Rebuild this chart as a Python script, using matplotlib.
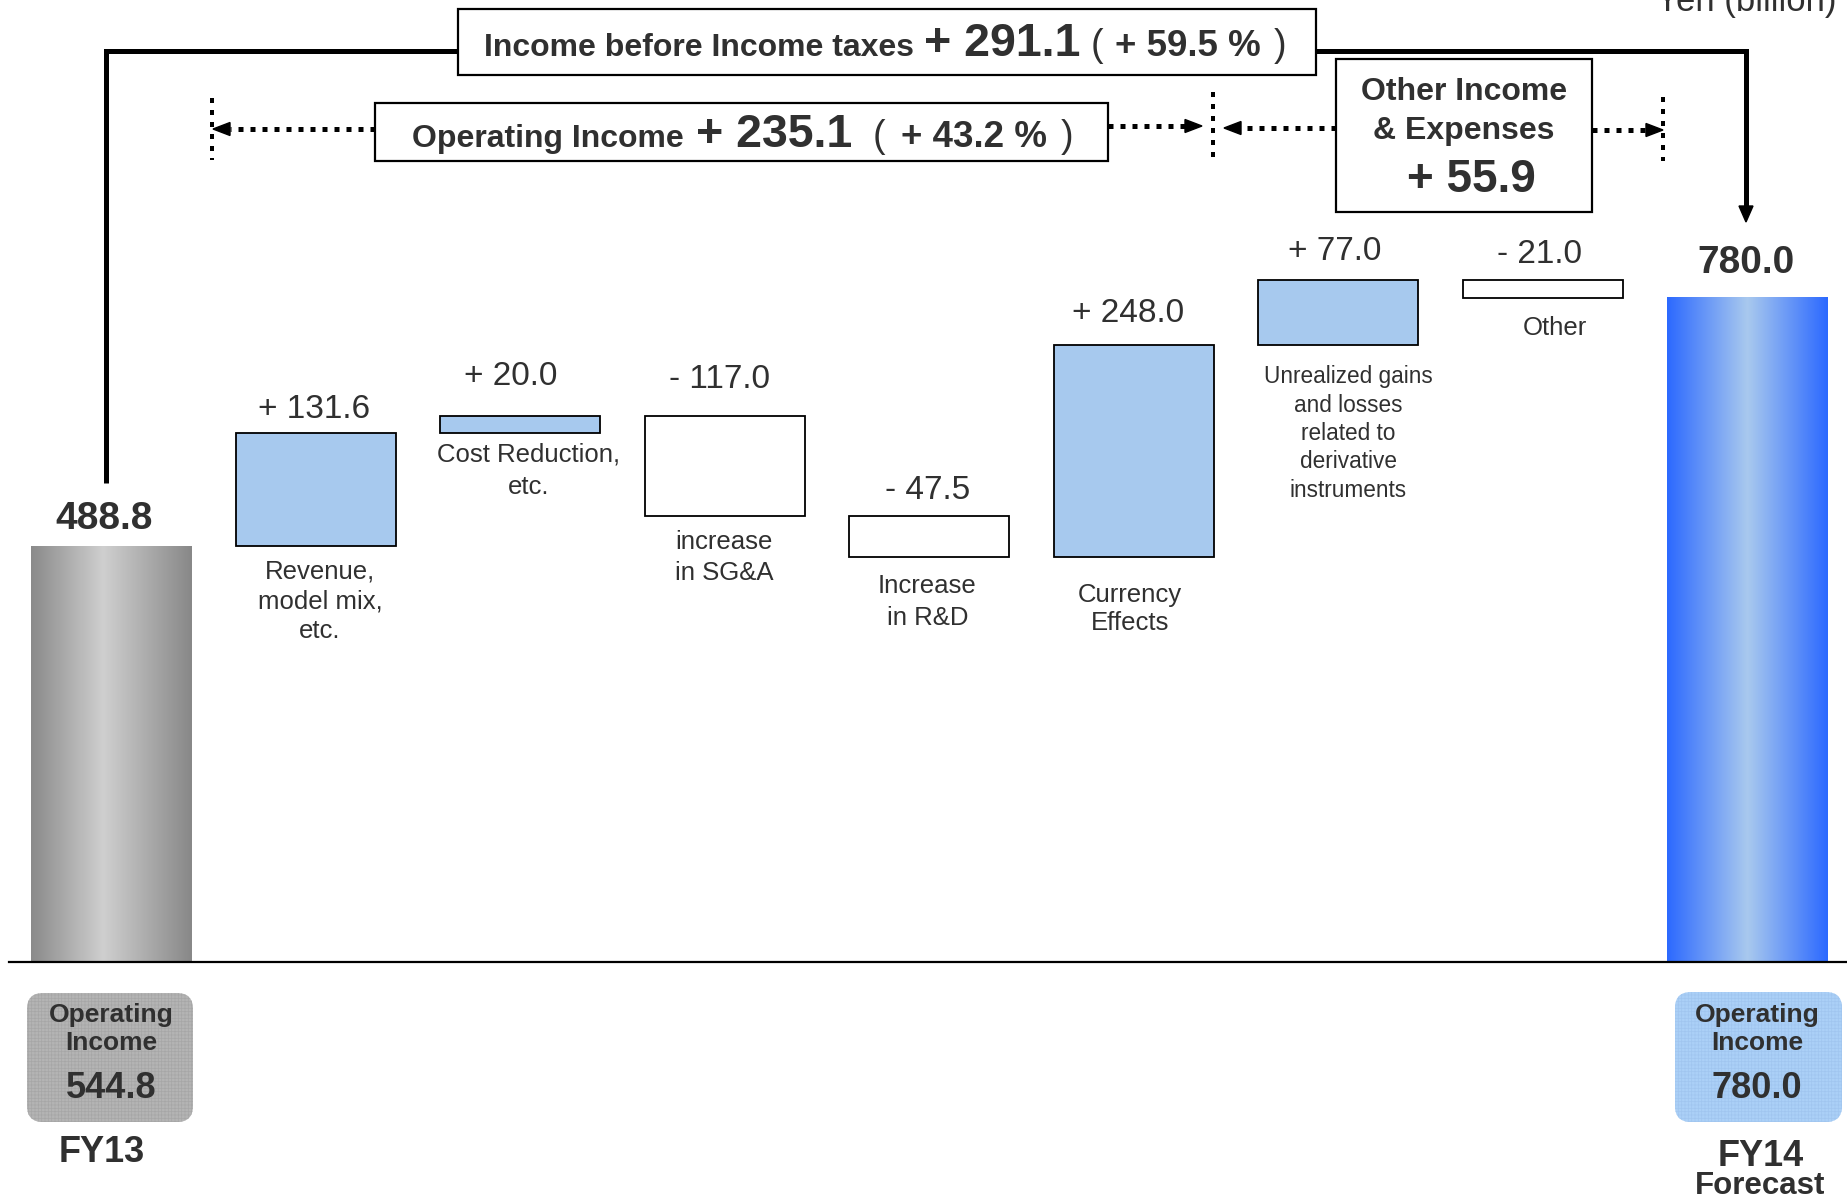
import numpy as np
import matplotlib
matplotlib.use("Agg")
import matplotlib.pyplot as plt
from matplotlib.patches import Rectangle, FancyBboxPatch, Polygon
from matplotlib.lines import Line2D
from matplotlib.transforms import Affine2D
from matplotlib.colors import LinearSegmentedColormap

# ---------------- data ----------------
start_label = ["FY13"]
end_label = ["FY14", "Forecast"]
start_value = 488.8
end_value = 780.0
step_labels = ["Revenue,\nmodel mix,\netc.",
               "Cost Reduction,\netc.",
               "increase\nin SG&A",
               "Increase\nin R&D",
               "Currency\nEffects",
               "Unrealized gains\nand losses\nrelated to\nderivative\ninstruments",
               "Other"]
step_values = [131.6, 20.0, -117.0, -47.5, 248.0, 77.0, -21.0]
op_income_fy13 = 544.8
op_income_fy14 = 780.0
ibt_change = 291.1
ibt_change_pct = 59.5
op_change = 235.1
op_change_pct = 43.2
other_change = 55.9
unit_label = "Yen (billion)"

# ---------------- style ----------------
plt.rcParams['font.family'] = ['Liberation Sans', 'DejaVu Sans']
DARK = '#303030'
POS_COLOR = '#A7C9EE'
NEG_COLOR = 'white'
value_gap_px = [24, 40, 37, 26, 32, 28, 25]
value_dx_px = [-2, -10, -5, -2, -6, -3, -3]
label_gap_px = [25, 20, 25, 28, 37, 31, 29]
label_dx_px = [4, 8, -1, -2, -4, 10, 12]
label_sizes = [18.5, 18.5, 18.5, 18.5, 18.5, 16.3, 18.5]
label_spacing = [1.30, 1.46, 1.35, 1.46, 1.25, 1.30, 1.2]

W, H = 1847, 1200
fig = plt.figure(figsize=(W / 100, H / 100), dpi=100)
ax = fig.add_axes([0, 0, 1, 1])
ax.axis('off')

PX_PER_X = 204.44
X0_PX = 111.5
BASE_PX = 962.0
PX_PER_Y = 0.852
XLIM = (-X0_PX / PX_PER_X, (W - X0_PX) / PX_PER_X)
YLIM = (-(H - BASE_PX) / PX_PER_Y, BASE_PX / PX_PER_Y)

def xd(p):
    return (p - X0_PX) / PX_PER_X

def yd(p):
    return (BASE_PX - p) / PX_PER_Y

# pixel transform (y down)
px = Affine2D().scale(1 / W, -1 / H).translate(0, 1) + fig.transFigure

# ---------------- bars ----------------
n = len(step_values)
xs = np.arange(n + 2)
cum = start_value + np.concatenate([[0.0], np.cumsum(step_values)])
bottoms = cum[:-1]
colors = [POS_COLOR if v > 0 else NEG_COLOR for v in step_values]
BW = 0.783
ax.bar(xs[1:-1], step_values, bottom=bottoms, width=BW, color=colors,
       edgecolor='black', linewidth=1.3, zorder=3)

end_bars = ax.bar([xs[0], xs[-1]], [start_value, end_value], width=0.787,
                  color='none', linewidth=0, zorder=2)

def grad_fill(bar, stops):
    cmap = LinearSegmentedColormap.from_list('g', stops)
    x0 = bar.get_x(); w = bar.get_width(); h = bar.get_height()
    im = ax.imshow(np.linspace(0, 1, 256)[None, :], cmap=cmap,
                   extent=(x0, x0 + w, 0, h), aspect='auto',
                   interpolation='bilinear', zorder=2)
    im.set_clip_path(bar)

grad_fill(end_bars[0], [(0, '#8A8A8A'), (0.45, '#CFCFCF'), (1, '#888888')])
grad_fill(end_bars[1], [(0, '#2C69FF'), (0.5, '#A9C9EE'), (1, '#2C69FF')])

# baseline
ax.plot([xd(9), XLIM[1]], [0, 0], color='black', lw=1.6, zorder=4)

# step value labels and category labels
for i, v in enumerate(step_values):
    x = xs[i + 1]
    top = max(bottoms[i], bottoms[i] + v)
    bot = min(bottoms[i], bottoms[i] + v)
    sign = '+' if v > 0 else '-'
    ax.text(x + value_dx_px[i] / PX_PER_X, top + value_gap_px[i] / PX_PER_Y,
            f"{sign} {abs(v):.1f}", ha='center', va='center', fontsize=24,
            color=DARK, zorder=5)
    ax.text(x + label_dx_px[i] / PX_PER_X, bot - (label_gap_px[i] - 11) / PX_PER_Y,
            step_labels[i], ha='center', va='top', fontsize=label_sizes[i],
            color=DARK, linespacing=label_spacing[i], zorder=5)

# end values
ax.text(xd(104), start_value + 27 / PX_PER_Y, f"{start_value:.1f}", ha='center',
        va='center', fontsize=28, fontweight='bold', color=DARK, zorder=5)
ax.text(xd(1746), end_value + 34 / PX_PER_Y, f"{end_value:.1f}", ha='center',
        va='center', fontsize=28, fontweight='bold', color=DARK, zorder=5)

# ---------------- connector (income before taxes) ----------------
cx0 = xd(106.5)
cx1 = xd(1746)
ytop = yd(51)
tip_y = yd(222)
head_len = 16 / PX_PER_Y
ax.plot([cx0, cx0, cx1, cx1], [yd(483), ytop, ytop, tip_y + head_len],
        color='black', lw=3.6, solid_joinstyle='miter', solid_capstyle='butt', zorder=4)
ax.add_patch(Polygon([[cx1, tip_y], [cx1 - 7 / PX_PER_X, tip_y + head_len],
                      [cx1 + 7 / PX_PER_X, tip_y + head_len]], closed=True,
                     color='black', zorder=4))

ax.set_xlim(*XLIM)
ax.set_ylim(*YLIM)

# ---------------- decorations in pixel space ----------------
def vdots(x, y0, y1):
    fig.add_artist(Line2D([x, x], [y0, y1], transform=px, color='black', lw=2.88,
                          linestyle=(0, (1.25, 1.75)), dash_capstyle='butt', zorder=3))

def harrow(x_from, x_tip, y):
    d = 1 if x_tip > x_from else -1
    base = x_tip - d * 17
    fig.add_artist(Line2D([x_from, base], [y, y], transform=px, color='black', lw=3.6,
                          linestyle=(0, (1.0, 1.4)), dash_capstyle='butt', zorder=3))
    fig.add_artist(Polygon([[x_tip, y], [base, y - 6.5], [base, y + 6.5]], closed=True,
                           transform=px, color='black', zorder=3))

vdots(212, 98, 160)
vdots(1213, 92, 164)
vdots(1663, 97, 161)
harrow(375, 213, 129)
harrow(1108, 1202, 126)
harrow(1336, 1224, 128)
harrow(1592, 1663, 130)

def box(x, y, w, h, lw=1.6):
    fig.add_artist(Rectangle((x, y), w, h, transform=px, facecolor='white',
                             edgecolor='black', lw=lw, zorder=4))

box(458, 9, 858, 66)
box(375, 102.5, 733, 58.5)
box(1336, 59, 256, 153)

renderer = fig.canvas.get_renderer()

def text_run(pieces, gaps, x_start, base_y):
    objs = []
    for s, size, weight in pieces:
        objs.append(fig.text(0, 0, s, transform=px, fontsize=size,
                             fontweight=weight, color=DARK, ha='left',
                             va='baseline', zorder=6))
    widths = [t.get_window_extent(renderer).width for t in objs]
    x = x_start
    for i, t in enumerate(objs):
        t.set_position((x, base_y))
        x += widths[i] + (gaps[i] if i < len(gaps) else 0)

text_run([("Income before Income taxes", 23, 'bold'),
          (f"+ {ibt_change:.1f}", 33.5, 'bold'),
          ("(", 27, 'normal'),
          (f"+ {ibt_change_pct:.1f} %", 26.5, 'bold'),
          (")", 27, 'normal')],
         [10.5, 9.5, 12, 13], 484, 56.5)
text_run([("Operating Income", 23, 'bold'),
          (f"+ {op_change:.1f}", 33.5, 'bold'),
          ("(", 27, 'normal'),
          (f"+ {op_change_pct:.1f} %", 26.5, 'bold'),
          (")", 27, 'normal')],
         [12, 21, 15, 14], 412, 147)

fig.text(1464, 91.5, "Other Income", transform=px, ha='center', va='center',
         fontsize=23, fontweight='bold', color=DARK, zorder=6)
fig.text(1464, 130.5, "& Expenses", transform=px, ha='center', va='center',
         fontsize=23, fontweight='bold', color=DARK, zorder=6)
fig.text(1471, 180, f"+ {other_change:.1f}", transform=px, ha='center', va='center',
         fontsize=33, fontweight='bold', color=DARK, zorder=6)

# unit label (cut at top, as in the original)
fig.text(1836, 11, unit_label, transform=px, ha='right', va='baseline',
         fontsize=25, color=DARK, zorder=6)

# bottom rounded boxes
plt.rcParams['hatch.linewidth'] = 0.5
def rbox(x, y, w, h, fc, hc):
    fig.add_artist(FancyBboxPatch((x, y), w, h, boxstyle='round,pad=0,rounding_size=16',
                                  transform=px, facecolor=fc, edgecolor=hc, hatch='+++++',
                                  lw=0, zorder=2))

rbox(27, 993, 166, 129, '#B4B4B4', '#A6A6A6')
rbox(1675, 992, 167, 130, '#ABD0F7', '#A0C5EF')

for cx, val in [(111, op_income_fy13), (1757, op_income_fy14)]:
    fig.text(cx, 1015, "Operating", transform=px, ha='center', va='center',
             fontsize=19, fontweight='bold', color=DARK, zorder=6)
    fig.text(cx, 1043, "Income", transform=px, ha='center', va='center',
             fontsize=19, fontweight='bold', color=DARK, zorder=6)
    fig.text(cx, 1088.5, f"{val:.1f}", transform=px, ha='center', va='center',
             fontsize=26, fontweight='bold', color=DARK, zorder=6)

fig.text(102, 1152, start_label[0], transform=px, ha='center', va='center',
         fontsize=26, fontweight='bold', color=DARK, zorder=6)
fig.text(1761, 1157, end_label[0], transform=px, ha='center', va='center',
         fontsize=26, fontweight='bold', color=DARK, zorder=6)
fig.text(1760, 1186, end_label[1], transform=px, ha='center', va='center',
         fontsize=22.5, fontweight='bold', color=DARK, zorder=6)

fig.savefig("out.png", dpi=100, facecolor='white')
